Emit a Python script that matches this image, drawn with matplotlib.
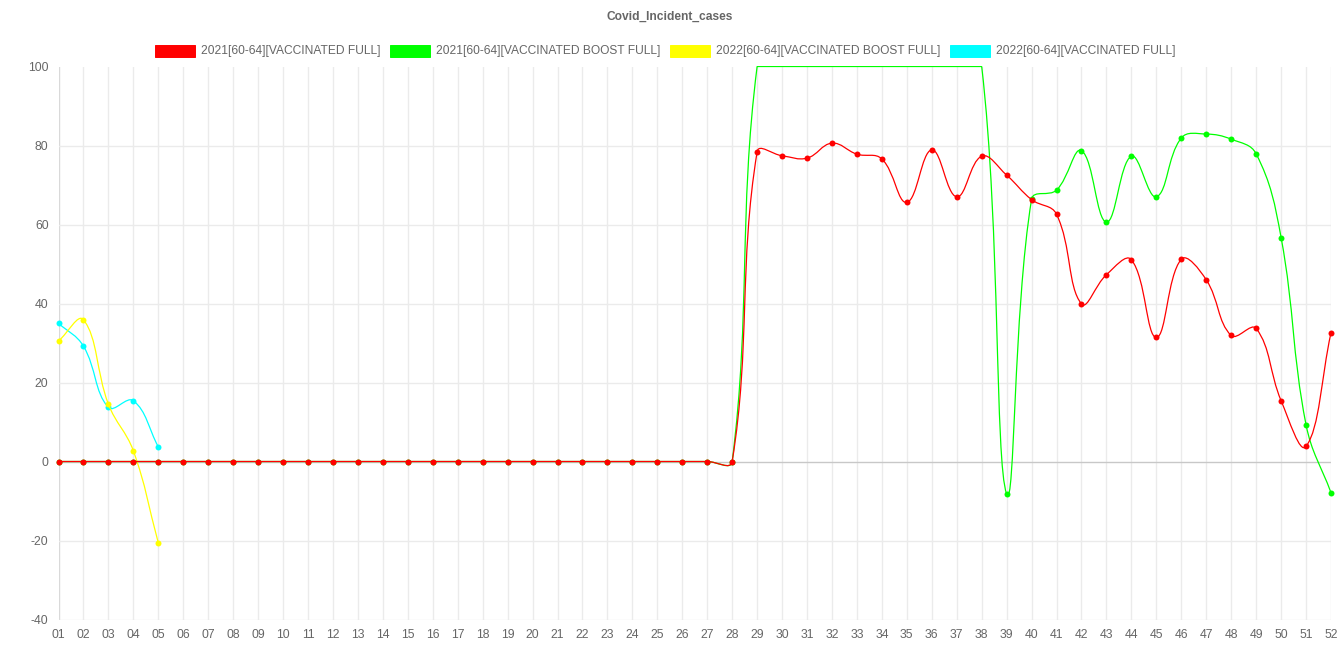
import numpy as np
import matplotlib
matplotlib.use("Agg")
import matplotlib.pyplot as plt
from matplotlib.path import Path
from matplotlib.patches import PathPatch, Rectangle
from matplotlib.transforms import Bbox

# ---------------- data ----------------
weeks = [f"{i:02d}" for i in range(1, 53)]

red_2021_full = [0] * 28 + [78.4, 77.4, 76.8, 80.6, 77.8, 76.6, 65.6, 78.9, 67.0, 77.3,
                            72.5, 66.3, 62.6, 39.9, 47.3, 51.1, 31.4, 51.2, 46.0, 31.9,
                            33.7, 15.4, 3.8, 32.6]
green_2021_boost = [0] * 28 + [100] * 10 + [-8.2, 66.4, 68.7, 78.7, 60.6, 77.3, 67.0,
                                            81.9, 82.9, 81.6, 77.9, 56.7, 9.3, -7.9]
yellow_2022_boost = [30.5, 35.9, 14.5, 2.7, -20.6]
cyan_2022_full = [35.0, 29.2, 13.7, 15.4, 3.7]

series = [
    ("2021[60-64][VACCINATED FULL]", red_2021_full, "#ff0000"),
    ("2021[60-64][VACCINATED BOOST FULL]", green_2021_boost, "#00ff00"),
    ("2022[60-64][VACCINATED BOOST FULL]", yellow_2022_boost, "#ffff00"),
    ("2022[60-64][VACCINATED FULL]", cyan_2022_full, "#00ffff"),
]
y_ticks = [-40, -20, 0, 20, 40, 60, 80, 100]
title = "Covid_Incident_cases"

# ---------------- layout ----------------
W, H = 1341, 670
DPI = 100
plt.rcParams["font.family"] = ["Liberation Sans", "DejaVu Sans"]
fig = plt.figure(figsize=(W / DPI, H / DPI), dpi=DPI)
left, right, top, bottom = 58.5, 1331, 66.5, 619.5
ax = fig.add_axes([left / W, (H - bottom) / H, (right - left) / W, (bottom - top) / H])
ymin, ymax = y_ticks[0], y_ticks[-1]
ax.set_xlim(0, len(weeks) - 1)
ax.set_ylim(ymin, ymax)
for s in ax.spines.values():
    s.set_visible(False)

# grid
for i in range(len(weeks)):
    ax.axvline(i, color="#d9d9d9" if i == 0 else "#ebebeb", lw=1, zorder=0)
for v in y_ticks:
    if v == ymax:
        continue
    ax.axhline(v, color="#c8c8c8" if v == 0 else "#ebebeb", lw=1, zorder=0.5)

ax.set_xticks(range(len(weeks)))
ax.set_xticklabels(weeks)
ax.set_yticks(y_ticks)
ax.set_yticklabels([str(v) for v in y_ticks])
ax.tick_params(axis="both", length=0, labelsize=8.8, labelcolor="#666666")
ax.tick_params(axis="x", pad=7.2)
ax.tick_params(axis="y", pad=7.2)

fig.canvas.draw()
T = ax.transData
inv = T.inverted()
bb = ax.get_window_extent()
clip_bb = Bbox.from_extents(bb.x0 - 1, bb.y0 - 1, bb.x1 + 1, bb.y1 + 1)


def chart_spline(xs, ys, t=0.4):
    pts = T.transform(np.column_stack([xs, ys]))
    n = len(pts)
    prev_cp, next_cp = [], []
    for i in range(n):
        p0 = pts[max(i - 1, 0)]
        p1 = pts[i]
        p2 = pts[min(i + 1, n - 1)]
        d01 = np.hypot(*(p1 - p0))
        d12 = np.hypot(*(p2 - p1))
        tot = d01 + d12
        s01 = d01 / tot if tot else 0
        s12 = d12 / tot if tot else 0
        pc = p1 - t * s01 * (p2 - p0)
        nc = p1 + t * s12 * (p2 - p0)
        for c in (pc, nc):
            c[0] = min(max(c[0], bb.x0), bb.x1)
            c[1] = min(max(c[1], bb.y0), bb.y1)
        prev_cp.append(pc)
        next_cp.append(nc)
    verts = [pts[0]]
    codes = [Path.MOVETO]
    for i in range(n - 1):
        verts += [next_cp[i], prev_cp[i + 1], pts[i + 1]]
        codes += [Path.CURVE4] * 3
    verts = inv.transform(np.array(verts))
    return Path(verts, codes)


for k, (name, vals, col) in reversed(list(enumerate(series))):
    xs = np.arange(len(vals))
    ys = np.array(vals, dtype=float)
    z = 10 - k
    patch = PathPatch(chart_spline(xs, ys), facecolor="none", edgecolor=col, lw=0.9,
                      zorder=z)
    ax.add_patch(patch)
    patch.set_clip_path(None)
    patch.set_clip_box(clip_bb)
    mask = (ys < ymax) & (ys >= ymin)
    ax.plot(xs[mask], ys[mask], linestyle="none", marker="o", markersize=4.3,
            color=col, markeredgewidth=0, zorder=z + 0.5, clip_on=False)

# title
fig.text(670 / W, 1 - 17 / H, title, ha="center", va="center", fontsize=8.64,
         fontweight="bold", color="#666666")

# legend
box_x = [155, 390, 670, 950]
for (name, vals, col), bx in zip(series, box_x):
    fig.add_artist(Rectangle((bx / W, 1 - 56.5 / H), 40 / W, 12 / H, transform=fig.transFigure,
                             facecolor=col, edgecolor=col, lw=0.7))
    fig.text((bx + 46) / W, 1 - 51 / H, name, ha="left", va="center", fontsize=8.64,
             color="#666666")

fig.savefig("out.png", dpi=DPI)
